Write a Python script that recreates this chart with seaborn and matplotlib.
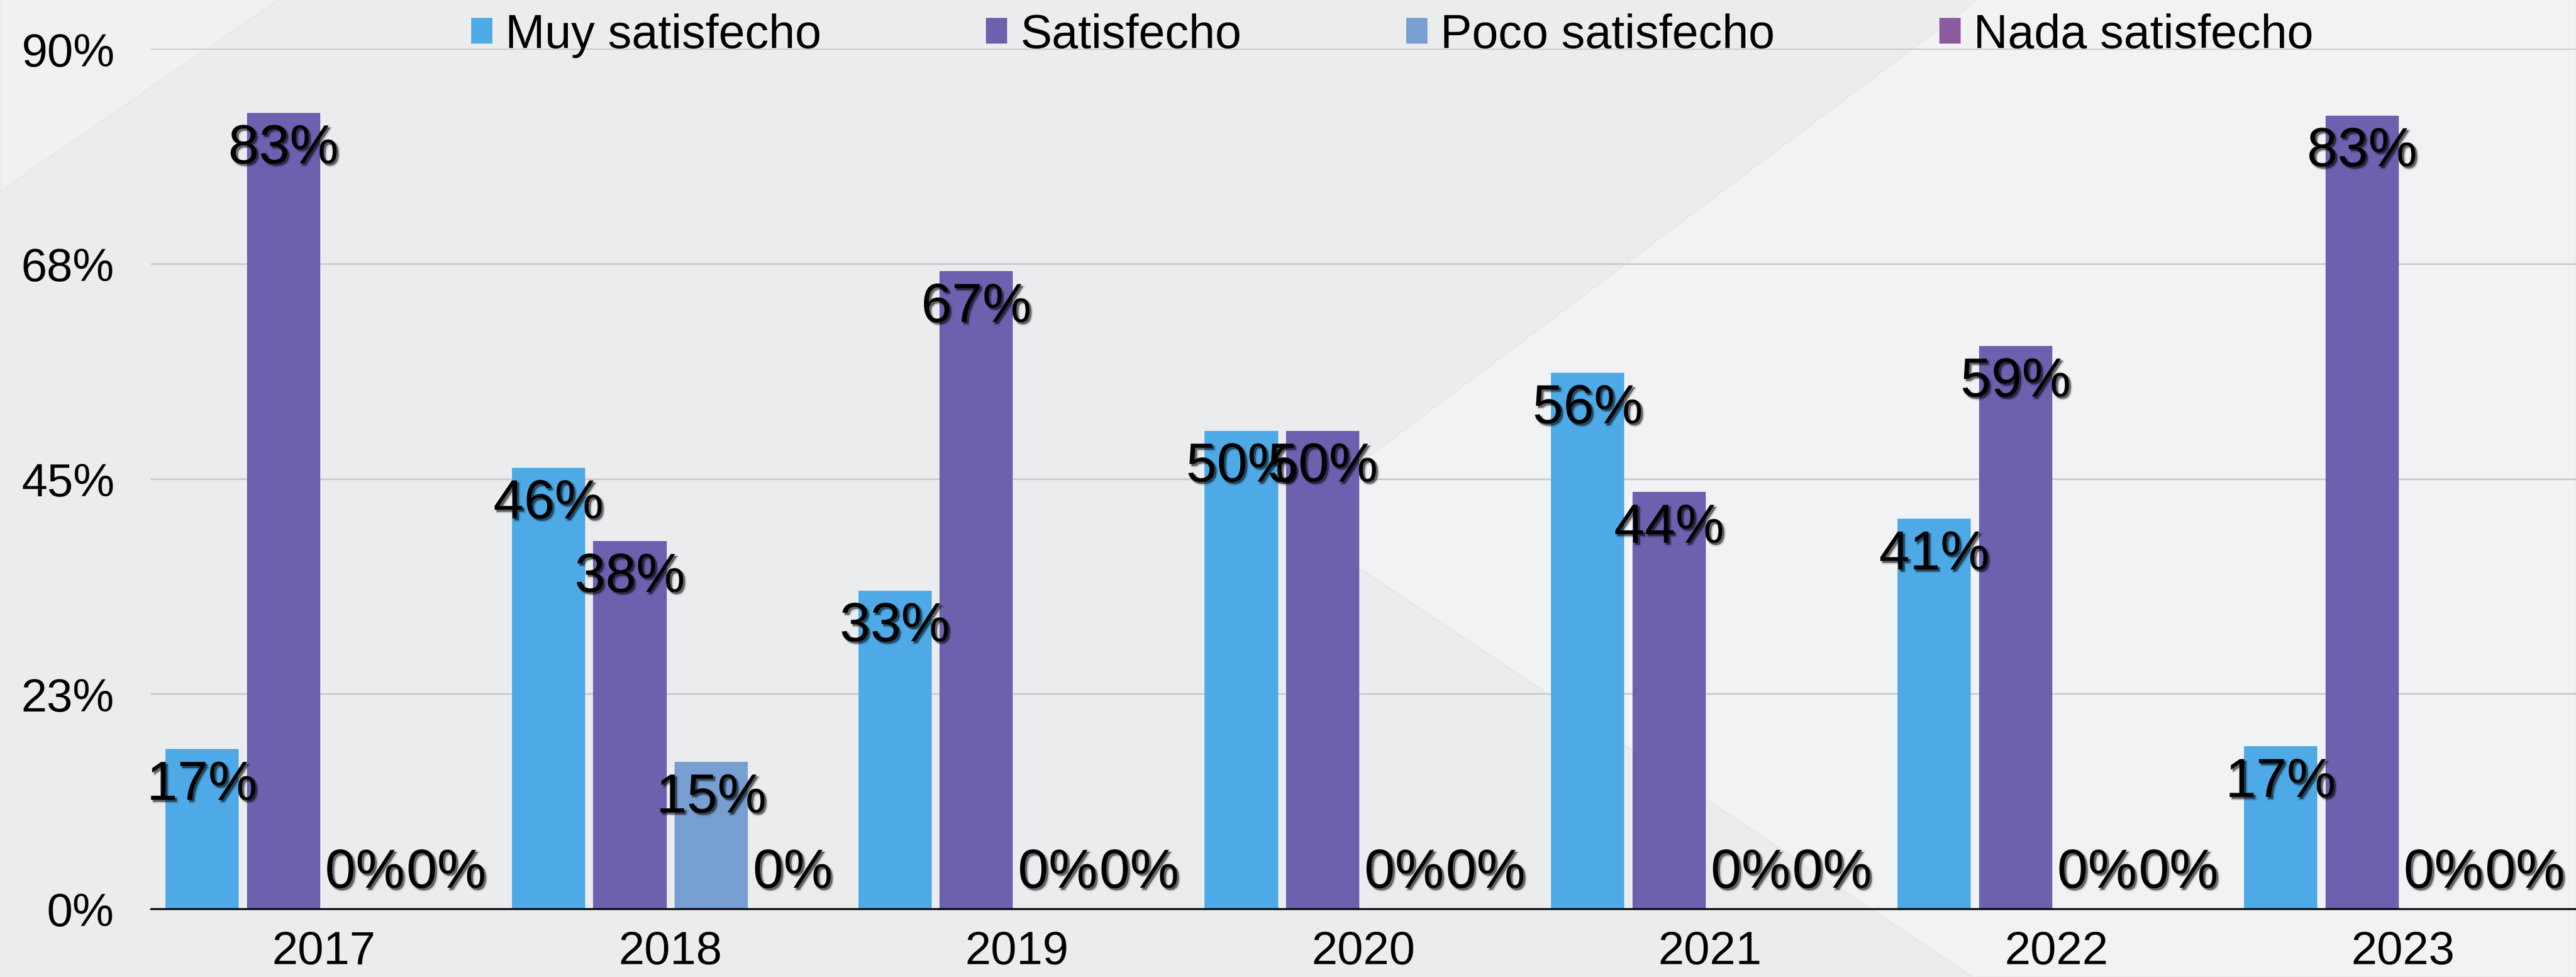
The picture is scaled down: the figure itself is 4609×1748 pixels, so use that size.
import numpy as np
import pandas as pd
import matplotlib
matplotlib.use("Agg")
import matplotlib.pyplot as plt
import matplotlib.patheffects as pe
from matplotlib.patches import Polygon
import seaborn as sns

# chart data
years = ["2017", "2018", "2019", "2020", "2021", "2022", "2023"]
categories = ["Muy satisfecho", "Satisfecho", "Poco satisfecho", "Nada satisfecho"]
muy_satisfecho = [16.7, 46.15, 33.3, 50.0, 56.1, 40.8, 17.0]
satisfecho = [83.3, 38.46, 66.7, 50.0, 43.6, 58.9, 83.0]
poco_satisfecho = [0.0, 15.38, 0.0, 0.0, 0.0, 0.0, 0.0]
nada_satisfecho = [0.0, 0.0, 0.0, 0.0, 0.0, 0.0, 0.0]
y_ticks = [0, 22.5, 45, 67.5, 90]
y_tick_labels = ["0%", "23%", "45%", "68%", "90%"]

colors = ["#4EAAE7", "#6C61AF", "#779FD2", "#8C5A9E"]

# long format table for seaborn
series = [muy_satisfecho, satisfecho, poco_satisfecho, nada_satisfecho]
df = pd.DataFrame({
    "year": np.tile(years, len(categories)),
    "cat": np.repeat(categories, len(years)),
    "value": np.concatenate(series),
})

sns.set_style("white")
plt.rcParams["font.family"] = ["Liberation Sans", "DejaVu Sans"]
plt.rcParams["text.color"] = "black"

W, H = 4609, 1749
fig = plt.figure(figsize=(W / 100, H / 100), dpi=100, facecolor="#EBECEE")

# soft background shapes (behind the axes)
fig.patches.append(Polygon([(0, 1), (498 / W, 1), (0, 1 - 343 / H)], closed=True,
                           transform=fig.transFigure, facecolor="#F0F1F3",
                           edgecolor="#E3E4E6", lw=1, zorder=-2))
fig.patches.append(Polygon([(3539 / W, 1), (1, 1), (1, 0), (3530 / W, 0), (2300 / W, 1 - 930 / H)],
                           closed=True, transform=fig.transFigure, facecolor="#F1F2F4",
                           edgecolor="#E3E4E6", lw=1, zorder=-2))

ax = fig.add_axes([270 / W, 1 - 1627 / H, (W - 270) / W, (1627 - 88) / H])
ax.set_facecolor("none")

sns.barplot(data=df, x="year", y="value", hue="cat", hue_order=categories,
            order=years, palette=colors, saturation=1, width=0.94, gap=0.1,
            edgecolor="none", linewidth=0, errorbar=None, ax=ax, zorder=3)

ax.set_ylim(0, 90)
ax.set_yticks(y_ticks)
ax.set_yticklabels(y_tick_labels)
ax.set_xlabel("")
ax.set_ylabel("")
ax.grid(axis="y", color="#C9CACD", linewidth=2.2, zorder=0)
ax.set_axisbelow(True)
ax.tick_params(axis="y", length=0, pad=47, labelsize=60, labelcolor="black")
ax.tick_params(axis="x", length=0, pad=27, labelsize=60, labelcolor="black")
for side in ["left", "right", "top"]:
    ax.spines[side].set_visible(False)
ax.spines["bottom"].set_color("black")
ax.spines["bottom"].set_linewidth(2.5)
ax.spines["bottom"].set_zorder(5)

# data labels with a soft drop shadow
shadow = [pe.Stroke(linewidth=3, foreground="black", alpha=0.12, offset=(3, -3)),
          pe.SimplePatchShadow(offset=(2.5, -2.5), shadow_rgbFace="black", alpha=0.5),
          pe.Normal()]
for container in ax.containers:
    for bar in container:
        v = bar.get_height()
        x = bar.get_x() + bar.get_width() / 2
        ax.text(x, max(v - 5.3, 2.2), f"{round(v)}%", ha="center", va="baseline",
                fontsize=71, color="black", path_effects=shadow, zorder=6)

handles, labels = ax.get_legend_handles_labels()
leg = ax.legend(handles, labels, ncol=4, frameon=False, loc="center",
                bbox_to_anchor=(2491 / W, 1 - 64 / H), bbox_transform=fig.transFigure,
                fontsize=61, handlelength=0.45, handleheight=0.45, handletextpad=0.27,
                columnspacing=3.48, borderpad=0, borderaxespad=0)
for t in leg.get_texts():
    t.set_color("black")

fig.savefig("out.png", dpi=100, facecolor=fig.get_facecolor())
